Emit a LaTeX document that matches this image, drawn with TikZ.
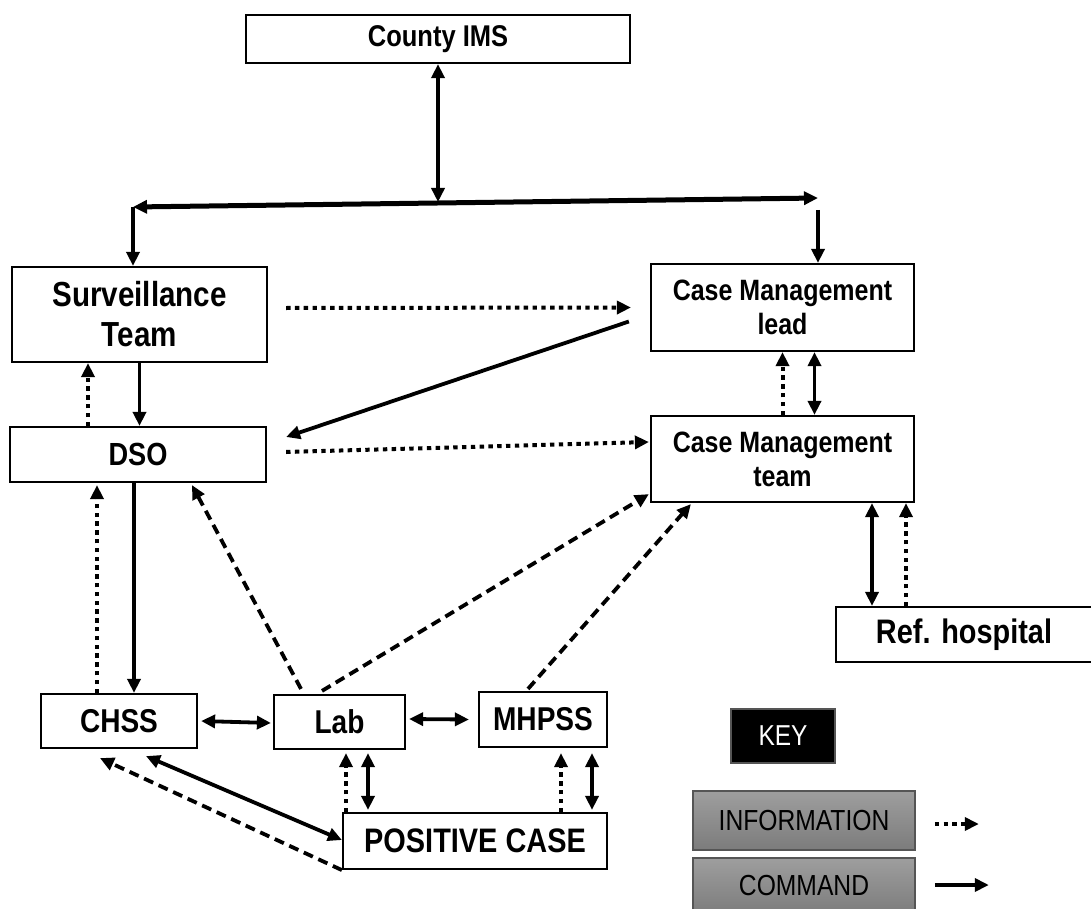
\documentclass[tikz,border=0pt]{standalone}
\usepackage{fontspec}
\setmainfont[FakeStretch=0.85]{Liberation Sans}
\usetikzlibrary{arrows.meta}
\definecolor{keygrayA}{RGB}{158,158,158}
\definecolor{keygrayB}{RGB}{124,124,124}
\definecolor{keyedge}{RGB}{85,85,85}
\begin{document}
\begin{tikzpicture}[x=0.5pt,y=-0.5pt,
  >={Triangle[length=7pt,width=6.5pt]},
  box/.style={draw, line width=1.1pt, inner sep=0pt, align=center, font=\bfseries\fontsize{16.5}{20}\selectfont},
  keybox/.style={draw=keyedge, line width=0.8pt, top color=keygrayA, bottom color=keygrayB, inner sep=0pt, font=\fontsize{14.5}{17}\selectfont},
  cmdln/.style={line width=1.9pt},
  infoln/.style={line width=2pt, dash pattern=on 2.2pt off 2.2pt},
  dashln/.style={line width=1.9pt, dash pattern=on 5pt off 3pt}]
\useasboundingbox (0,0) rectangle (1091,909);
\node[box, minimum width=192pt, minimum height=24pt, font=\bfseries\fontsize{15}{18}\selectfont] (ims) at (438,39){County IMS};
\node[box, minimum width=127.5pt, minimum height=47.5pt, font=\bfseries\fontsize{17.4}{20}\selectfont] (sur) at (139.5,314.5){Surveillance\\Team};
\node[box, minimum width=131.5pt, minimum height=43.5pt, font=\bfseries\fontsize{14.7}{17}\selectfont] (cml) at (782.5,307.5){Case Management\\lead};
\node[box, minimum width=128pt, minimum height=27.5pt, font=\bfseries\fontsize{16}{19}\selectfont] (dso) at (138,454.5){DSO};
\node[box, minimum width=131.5pt, minimum height=43pt, font=\bfseries\fontsize{14.7}{17}\selectfont] (cmt) at (782.5,459){Case Management\\team};
\node[box, minimum width=128pt, minimum height=27.5pt, font=\bfseries\fontsize{17}{20}\selectfont] (ref) at (964,634.5){Ref. hospital};
\node[box, minimum width=78pt, minimum height=27pt] (chss) at (119,721){CHSS};
\node[box, minimum width=65.5pt, minimum height=27pt] (lab) at (339.5,722){Lab};
\node[box, minimum width=64pt, minimum height=27.5pt] (mh) at (543,719.5){MHPSS};
\node[box, minimum width=132pt, minimum height=28pt, font=\bfseries\fontsize{17}{20}\selectfont] (pos) at (475,841){POSITIVE CASE};
\node[fill=black, draw=keyedge, line width=0.8pt, text=white, inner sep=0pt, minimum width=52pt, minimum height=27pt, font=\fontsize{14.4}{17}\selectfont] (key) at (783,736){KEY};
\node[keybox, minimum width=111pt, minimum height=29.5pt] (info) at (804,820.5){INFORMATION};
\node[keybox, minimum width=111pt, minimum height=28pt] (cmd) at (804,886){COMMAND};
\coordinate (hl) at (133,207);
\coordinate (hr) at (818,198);
\coordinate (hm) at (438,202);
\coordinate (hr2) at (818,210);
\draw[cmdln, <->] (ims.south) -- (hm);
\draw[line width=2.5pt, <->] (hl) -- (hr);
\draw[cmdln, ->] (hl) -- (hl |- sur.north);
\draw[cmdln, ->] (hr2) -- (hr2 |- cml.north);
\draw[infoln, ->] ([xshift=9pt,yshift=3.25pt]sur.east) -- ([xshift=-9.5pt]cml.west);
\draw[cmdln, ->] ([xshift=-10.5pt,yshift=-7pt]cml.west) -- ([xshift=9.5pt,yshift=8.75pt]dso.east);
\draw[infoln, ->] ([xshift=-25pt]dso.north) -- ([xshift=-25.75pt]sur.south);
\draw[cmdln, ->] (sur.south) -- (sur.south |- dso.north);
\draw[infoln, ->] ([xshift=9.5pt,yshift=1.25pt]dso.east) -- ([xshift=-0.5pt,yshift=8.5pt]cmt.west);
\draw[infoln, ->] (cmt.north) -- (cml.south);
\draw[cmdln, <->] ([xshift=16pt]cml.south) -- ([xshift=16pt]cmt.north);
\draw[cmdln, <->] ([xshift=44.75pt]cmt.south) -- ([xshift=-46pt]ref.north);
\draw[infoln, ->] ([xshift=-29pt]ref.north) -- ([xshift=61.75pt]cmt.south);
\draw[infoln, ->] ([xshift=-11pt]chss.north) -- ([xshift=-20.5pt,yshift=-1pt]dso.south);
\draw[cmdln, ->] ([xshift=-2pt]dso.south) -- ([xshift=7.5pt]chss.north);
\draw[dashln, ->] ([xshift=-19.25pt,yshift=2.5pt]lab.north) -- ([xshift=27pt,yshift=-1pt]dso.south);
\draw[dashln, ->] ([xshift=-8.75pt,yshift=1.5pt]lab.north) -- ([xshift=-0.5pt,yshift=4.5pt]cmt.south west);
\draw[dashln, ->] ([xshift=-7.5pt,yshift=1pt]mh.north) -- ([xshift=20.5pt,yshift=-0.5pt]cmt.south west);
\draw[cmdln, <->] ([xshift=1.5pt]chss.east) -- ([xshift=-1pt,yshift=-0.5pt]lab.west);
\draw[cmdln, <->] ([xshift=1.5pt,yshift=1.5pt]lab.east) -- ([xshift=-4.5pt]mh.west);
\draw[infoln, ->] ([xshift=-64.5pt]pos.north) -- ([xshift=3.25pt,yshift=-1.5pt]lab.south);
\draw[cmdln, <->] ([xshift=14.25pt,yshift=-1.5pt]lab.south) -- ([xshift=-53.5pt,yshift=1pt]pos.north);
\draw[infoln, ->] ([xshift=43pt]pos.north) -- ([xshift=9pt,yshift=-2.5pt]mh.south);
\draw[cmdln, <->] ([xshift=24.5pt,yshift=-2.5pt]mh.south) -- ([xshift=58.5pt,yshift=1pt]pos.north);
\draw[cmdln, <->] ([xshift=13.5pt,yshift=-3.5pt]chss.south) -- ([yshift=0.5pt]pos.west);
\draw[dashln, ->] (pos.south west) -- ([xshift=-9.5pt,yshift=-4.5pt]chss.south);
\draw[infoln, ->] ([xshift=9.5pt,yshift=-1.75pt]info.east) -- ([xshift=31.5pt,yshift=-1.75pt]info.east);
\draw[cmdln, ->] ([xshift=9.5pt,yshift=0.5pt]cmd.east) -- ([xshift=36.5pt,yshift=0.5pt]cmd.east);
\end{tikzpicture}
\end{document}
